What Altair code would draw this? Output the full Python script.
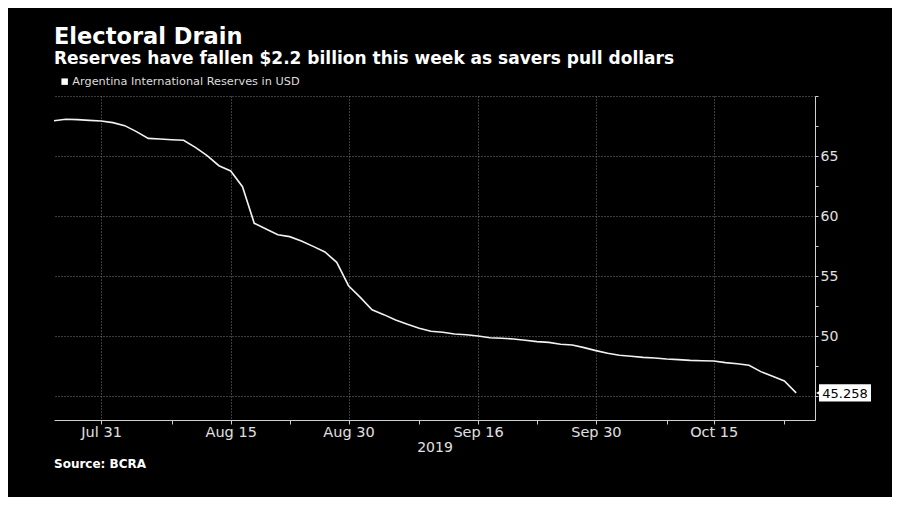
import altair as alt
import pandas as pd

# ---- data ----
dates = [
    "2019-07-25", "2019-07-26", "2019-07-29", "2019-07-30", "2019-07-31",
    "2019-08-01", "2019-08-02", "2019-08-05", "2019-08-06", "2019-08-07",
    "2019-08-08", "2019-08-09", "2019-08-12", "2019-08-13", "2019-08-14",
    "2019-08-15", "2019-08-16", "2019-08-20", "2019-08-21", "2019-08-22",
    "2019-08-23", "2019-08-26", "2019-08-27", "2019-08-28", "2019-08-29",
    "2019-08-30", "2019-09-02", "2019-09-03", "2019-09-04", "2019-09-05",
    "2019-09-06", "2019-09-09", "2019-09-10", "2019-09-11", "2019-09-12",
    "2019-09-13", "2019-09-16", "2019-09-17", "2019-09-18", "2019-09-19",
    "2019-09-20", "2019-09-23", "2019-09-24", "2019-09-25", "2019-09-26",
    "2019-09-27", "2019-09-30", "2019-10-01", "2019-10-02", "2019-10-03",
    "2019-10-04", "2019-10-07", "2019-10-08", "2019-10-09", "2019-10-10",
    "2019-10-11", "2019-10-15", "2019-10-16", "2019-10-17", "2019-10-18",
    "2019-10-21", "2019-10-22", "2019-10-23", "2019-10-24",
]
values = [
    67.94, 68.06, 68.03, 67.97, 67.92,
    67.78, 67.53, 67.03, 66.47, 66.42,
    66.36, 66.31, 65.72, 65.03, 64.19,
    63.75, 62.44, 59.39, 58.92, 58.44,
    58.28, 57.92, 57.47, 57.00, 56.14,
    54.19, 53.22, 52.19, 51.78, 51.33,
    50.97, 50.64, 50.40, 50.31, 50.17,
    50.11, 50.00, 49.86, 49.81, 49.75,
    49.64, 49.53, 49.47, 49.31, 49.25,
    49.03, 48.78, 48.56, 48.39, 48.31,
    48.22, 48.17, 48.08, 48.03, 47.97,
    47.94, 47.92, 47.78, 47.69, 47.56,
    47.03, 46.64, 46.25, 45.258,
]
series_name = "Argentina International Reserves in USD"

label_dates = ["2019-07-31", "2019-08-15", "2019-08-30", "2019-09-16", "2019-09-30", "2019-10-15"]
label_texts = ["Jul 31", "Aug 15", "Aug 30", "Sep 16", "Sep 30", "Oct 15"]
minor_dates = ["2019-08-08", "2019-08-23", "2019-09-09", "2019-09-23", "2019-10-08", "2019-10-23"]

y_ticks = [45, 47.5, 50, 52.5, 55, 57.5, 60, 62.5, 65, 67.5, 70]

title_text = "Electoral Drain"
subtitle_text = "Reserves have fallen $2.2 billion this week as savers pull dollars"
source_text = "Source: BCRA"
year_text = "2019"

# ---- build ----
FONT = "DejaVu Sans"
W, H = 761, 324

df = pd.DataFrame({"date": dates, "value": values})
df["idx"] = range(len(df))
df["series"] = series_name

major_idx = [dates.index(d) for d in label_dates]
minor_idx = [dates.index(d) for d in minor_dates]
x_tick_vals = sorted(major_idx + minor_idx)

label_expr = " : ".join(
    f"datum.value == {i} ? '{t}'" for i, t in zip(major_idx, label_texts)
) + " : ''"
major_list = "[" + ",".join(str(i) for i in major_idx) + "]"

x_scale = alt.Scale(domain=[0, 64.6], nice=False, zero=False)
y_scale = alt.Scale(domain=[43, 70], nice=False, zero=False)

x_axis = alt.Axis(
    values=x_tick_vals,
    labelExpr=label_expr,
    title=year_text,
    titleFont=FONT, titleFontSize=14, titleFontWeight="normal", titleColor="#e0e0e0",
    titlePadding=2,
    labelFont=FONT, labelFontSize=14.5, labelColor="#e0e0e0", labelPadding=1,
    labelFlush=False, labelOverlap=False,
    domainColor="#cfcfcf", domainWidth=1,
    tickColor="#cfcfcf", tickSize=4,
    grid=True, gridColor="#777777", gridDash=[1, 2], gridWidth=1,
    gridOpacity={"condition": {"test": f"indexof({major_list}, datum.value) >= 0", "value": 1}, "value": 0},
)

y_axis = alt.Axis(
    orient="right",
    values=y_ticks,
    labelExpr="datum.value >= 50 && datum.value <= 65 && datum.value % 5 == 0 ? datum.label : ''",
    title=None,
    labelFont=FONT, labelFontSize=14, labelColor="#e0e0e0", labelPadding=2,
    labelFlush=False, labelOverlap=False,
    domainColor="#cfcfcf", domainWidth=1,
    tickColor="#cfcfcf", tickSize=3,
    grid=True, gridColor="#777777", gridDash=[1, 2], gridWidth=1,
    gridOpacity={"condition": {"test": "datum.value % 5 == 0", "value": 1}, "value": 0},
)

line = alt.Chart(df).mark_line(strokeWidth=1.6, interpolate="linear").encode(
    x=alt.X("idx:Q", scale=x_scale, axis=x_axis),
    y=alt.Y("value:Q", scale=y_scale, axis=y_axis),
    color=alt.Color(
        "series:N",
        scale=alt.Scale(range=["#f2f2f2"]),
        legend=alt.Legend(
            title=None, orient="none", legendX=5, legendY=-20,
            symbolType="square", symbolSize=42, symbolFillColor="#ffffff",
            symbolStrokeWidth=0, symbolOffset=0,
            labelFont=FONT, labelFontSize=11.3, labelColor="#dddddd", labelOffset=2,
            labelLimit=0, padding=0,
        ),
    ),
)

last = df.tail(1)
badge_rect = alt.Chart(last).transform_calculate(
    lo="datum.value - 0.72", hi="datum.value + 0.72"
).mark_rect(color="#ffffff").encode(
    x=alt.value(W + 4), x2=alt.value(W + 56),
    y=alt.Y("lo:Q", scale=y_scale, axis=y_axis), y2="hi:Q",
)
badge_tip = alt.Chart(last).mark_point(
    shape="triangle-left", filled=True, color="#ffffff", size=45, opacity=1
).encode(
    x=alt.value(W + 4),
    y=alt.Y("value:Q", scale=y_scale, axis=y_axis),
)
badge_text = alt.Chart(last).mark_text(
    font=FONT, fontSize=13, color="#000000", align="center", baseline="middle", dy=1
).encode(
    x=alt.value(W + 30),
    y=alt.Y("value:Q", scale=y_scale, axis=y_axis),
    text=alt.Text("value:Q", format=".3f"),
)

source = alt.Chart(pd.DataFrame({"s": [source_text]})).mark_text(
    font=FONT, fontSize=12, fontWeight="bold", color="#ffffff", align="left", baseline="alphabetic"
).encode(
    x=alt.value(0), y=alt.value(H + 48), text="s:N"
)

chart = alt.layer(line, badge_rect, badge_tip, badge_text, source).properties(
    width=W, height=H,
    background="#000000",
    padding={"left": 46, "top": 88, "right": 77, "bottom": 77},
    autosize=alt.AutoSizeParams(type="none"),
    title=alt.TitleParams(
        text=title_text, subtitle=subtitle_text,
        anchor="start", frame="group", offset=9,
        font=FONT, fontSize=22.5, fontWeight="bold", color="#ffffff",
        subtitleFont=FONT, subtitleFontSize=17, subtitleFontWeight="bold",
        subtitleColor="#ffffff", subtitlePadding=3,
    ),
).configure_view(stroke=None)

chart.save("out.html", embed_options={"renderer": "svg", "actions": False})
